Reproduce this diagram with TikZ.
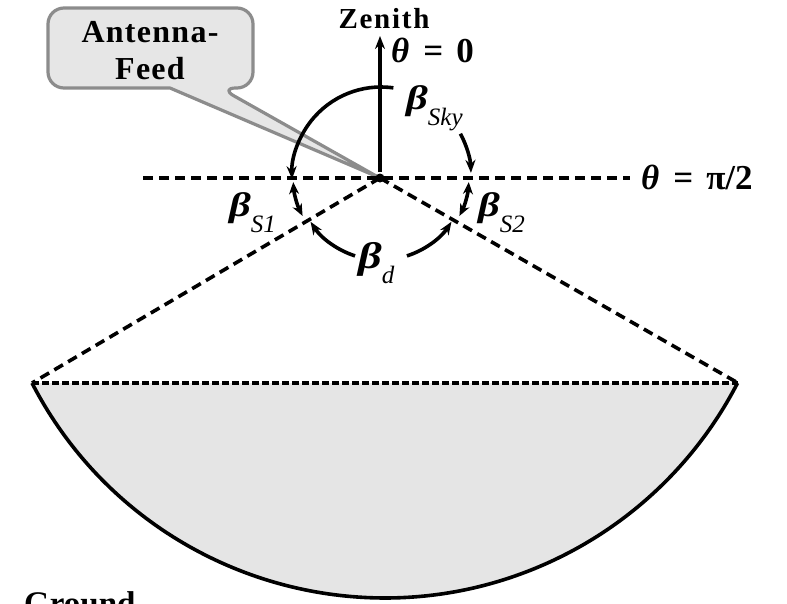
\documentclass[tikz,border=0pt]{standalone}
\usepackage{fontspec}
\setmainfont{Liberation Serif}
\usetikzlibrary{arrows.meta}
\newcommand{\betalbl}[5]{{\fontsize{#3}{#3}\selectfont\bfseries\itshape\scalebox{1.25}[1]{β}}\kern#2\raisebox{-#4}{\fontsize{#5}{#5}\selectfont\itshape #1}}
\definecolor{callfill}{HTML}{E6E6E6}
\definecolor{calldraw}{HTML}{8C8C8C}
\definecolor{groundfill}{HTML}{E5E5E5}
\begin{document}
\begin{tikzpicture}[x=1pt,y=-1pt,
  lbl/.style={inner sep=0pt, anchor=base west},
  solidln/.style={line width=3.6pt},
  dashln/.style={line width=3.6pt, dash pattern=on 10pt off 6pt},
  chordln/.style={line width=3.6pt, dash pattern=on 6.5pt off 3.5pt},
  tipend/.style={-{Stealth[length=13pt,width=10pt]}},
  tipboth/.style={{Stealth[length=12pt,width=10pt]}-{Stealth[length=12pt,width=10pt]}},
  callout/.style={fill=callfill, draw=calldraw, line width=3.2pt, line join=round}
]
\useasboundingbox (0,0) rectangle (787,603);
\clip (0,0) rectangle (787,603);
\fill[white] (0,0) rectangle (787,603);

% coordinates
\coordinate (C) at (380,178);
\coordinate (O) at (381,176);
\coordinate (L) at (32,383);
\coordinate (R) at (738,383);
\coordinate (HL) at (143,178);
\coordinate (HR) at (630,178);
\coordinate (Z) at (380,36);
\coordinate (Zs) at (380,172);

% ground bowl
\fill[groundfill] (L) arc[start angle=152.7, end angle=27.3, radius=397] -- cycle;
\draw[solidln] (L) arc[start angle=152.7, end angle=27.3, radius=397];
\draw[chordln] (L) -- (R);
\draw[dashln] (C) -- (L);
\draw[dashln] (C) -- (R);

% callout
\draw[callout] (48,48) [rounded corners=16pt] -- (48,8) -- (253,8) -- (253,88) -- (220,88) [sharp corners] -- (378,177) -- (170,88) [rounded corners=16pt] -- (48,88) -- cycle;
\node[inner sep=0pt, align=center, font=\fontsize{32}{37}\selectfont\bfseries\addfontfeature{LetterSpace=4}] (feed) at (150,51) {Antenna-\\Feed};

% horizon
\draw[dashln] (HL) -- (HR);

% zenith arrow
\draw[line width=4pt, tipend] (Zs) -- (Z);
\node[inner sep=0pt, anchor=base, font=\fontsize{29}{29}\selectfont\bfseries\addfontfeature{LetterSpace=6}] (zen) at (384,28) {Zenith};
\node[lbl, font=\fontsize{35}{35}\selectfont\bfseries] (th0) at (391,62) {{\itshape θ}\hspace{14pt}=\hspace{13pt}0};
\node[lbl, font=\fontsize{35}{35}\selectfont\bfseries] (th90) at (641,189) {{\itshape θ}\hspace{14pt}=\hspace{13pt}π/2};

% arcs
\draw[solidln, tipend] ([shift={(-82:89)}]O) arc[start angle=-82, end angle=-182, radius=89];
\draw[solidln, tipend] ([shift={(-28:90)}]O) arc[start angle=-28, end angle=-2, radius=90];
\draw[solidln, tipboth] ([shift={(-184:88)}]O) arc[start angle=-184, end angle=-207, radius=88];
\draw[solidln, tipboth] ([shift={(4:88)}]O) arc[start angle=4, end angle=27, radius=88];
\draw[solidln, tipend] ([shift={(-252:84)}]O) arc[start angle=-252, end angle=-213, radius=84];
\draw[solidln, tipend] ([shift={(72:84)}]O) arc[start angle=72, end angle=33, radius=84];

% center dot
\fill (C) circle[radius=4.5];

% labels
\node[lbl] (bsky) at (406,109) {\betalbl{Sky}{0pt}{34pt}{16pt}{25pt}};
\node[lbl] (bs1) at (229,216) {\betalbl{S1}{0pt}{34pt}{16pt}{25pt}};
\node[lbl] (bs2) at (478,216) {\betalbl{S2}{0pt}{34pt}{16pt}{25pt}};
\node[lbl] (bd) at (358,268) {\betalbl{d}{0pt}{37pt}{15pt}{25pt}};

% ground label
\node[lbl, font=\fontsize{33}{33}\selectfont\bfseries] (ground) at (24,614) {Ground};
\end{tikzpicture}
\end{document}
